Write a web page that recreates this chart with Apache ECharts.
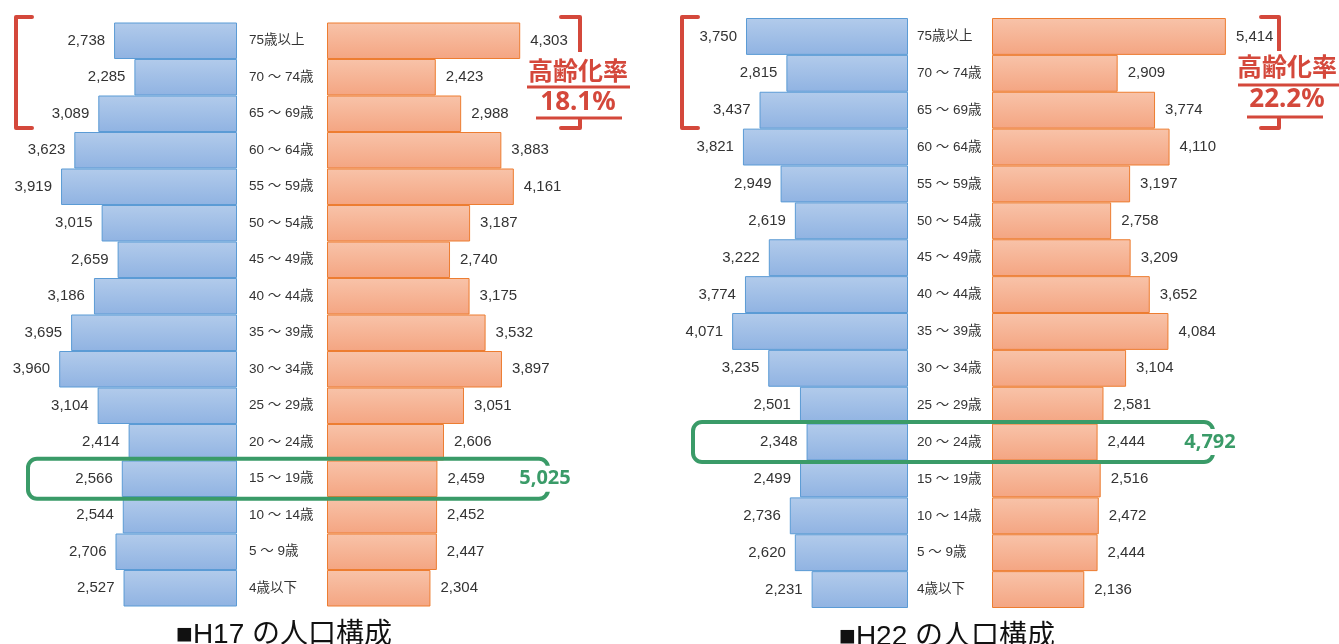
<!DOCTYPE html>
<html>
<head>
<meta charset="utf-8">
<script src="https://cdn.jsdelivr.net/npm/echarts@6/dist/echarts.min.js"></script>
<style>
html,body{margin:0;padding:0;background:#fff;}
#main{width:1339px;height:644px;}
</style>
</head>
<body>
<div id="main"></div>
<script>
// Age categories, bottom to top
var ages = ['4歳以下','5 ～ 9歳','10 ～ 14歳','15 ～ 19歳','20 ～ 24歳','25 ～ 29歳','30 ～ 34歳','35 ～ 39歳','40 ～ 44歳','45 ～ 49歳','50 ～ 54歳','55 ～ 59歳','60 ～ 64歳','65 ～ 69歳','70 ～ 74歳','75歳以上'];
var h17Male   = [2527, 2706, 2544, 2566, 2414, 3104, 3960, 3695, 3186, 2659, 3015, 3919, 3623, 3089, 2285, 2738];
var h17Female = [2304, 2447, 2452, 2459, 2606, 3051, 3897, 3532, 3175, 2740, 3187, 4161, 3883, 2988, 2423, 4303];
var h22Male   = [2231, 2620, 2736, 2499, 2348, 2501, 3235, 4071, 3774, 3222, 2619, 2949, 3821, 3437, 2815, 3750];
var h22Female = [2136, 2444, 2472, 2516, 2444, 2581, 3104, 4084, 3652, 3209, 2758, 3197, 4110, 3774, 2909, 5414];
var titles = ['■H17 の人口構成', '■H22 の人口構成'];
var agingRates = ['18.1%', '22.2%'];
var highlight = [{age: '15 ～ 19歳', total: '5,025'}, {age: '20 ～ 24歳', total: '4,792'}];

var chart = echarts.init(document.getElementById('main'), null, {renderer: 'canvas'});
var NUMFONT = "'Liberation Sans', Arial, sans-serif";
var JPFONT = "'Liberation Sans', 'Noto Sans CJK JP', sans-serif";
var RED = '#d4483b';
var GREEN = '#3a9b68';

function blueGrad(){ return new echarts.graphic.LinearGradient(0,0,0,1,[{offset:0,color:'#b2cbeb'},{offset:1,color:'#90b3e2'}]); }
function orangeGrad(){ return new echarts.graphic.LinearGradient(0,0,0,1,[{offset:0,color:'#f8c3a9'},{offset:1,color:'#f4a582'}]); }
function fmt(v){ return v.toLocaleString('en-US'); }

var grids = [
  {left: 12.5, top: 22.5, width: 224.5, height: 584},
  {left: 327, top: 22.5, width: 224.5, height: 584},
  {left: 648.8, top: 18, width: 259.2, height: 590},
  {left: 992, top: 18, width: 259.2, height: 590}
];
var maxes = [5000, 5000, 6000, 6000];
var margins = [12, 9];

var xAxes = [], yAxes = [], series = [];
var dataSets = [h17Male, h17Female, h22Male, h22Female];
for (var i = 0; i < 4; i++) {
  var male = (i % 2 === 0);
  xAxes.push({gridIndex: i, type: 'value', min: 0, max: maxes[i], inverse: male, show: false});
  yAxes.push({
    gridIndex: i, type: 'category', data: ages, position: 'right',
    show: male,
    axisLine: {show: false}, axisTick: {show: false}, splitLine: {show: false},
    axisLabel: {show: male, margin: margins[Math.floor(i/2)], align: 'left', fontSize: 13.5, color: '#333', fontFamily: JPFONT}
  });
  series.push({
    type: 'bar', xAxisIndex: i, yAxisIndex: i, data: dataSets[i],
    barCategoryGap: '0%', silent: true,
    itemStyle: {color: male ? blueGrad() : orangeGrad(), borderColor: male ? '#5b9bd5' : '#ed7d31', borderWidth: 1},
    label: {show: true, position: male ? 'left' : 'right', distance: male ? 9 : 10,
      formatter: function(p){ return fmt(p.value); }, fontSize: 15, color: '#333', fontFamily: NUMFONT}
  });
}

chart.setOption({
  animation: false,
  grid: grids, xAxis: xAxes, yAxis: yAxes, series: series
});

function bracketLeft(x, x2, y1, y2){
  return {type: 'polyline', z: 50, shape: {points: [[x2,y1],[x,y1],[x,y2],[x2,y2]]},
    style: {stroke: RED, lineWidth: 4, fill: null, lineJoin: 'round', lineCap: 'round'}};
}
function bracketRight(x, x1, y1, y2){
  return {type: 'polyline', z: 50, shape: {points: [[x1,y1],[x,y1],[x,y2],[x1,y2]]},
    style: {stroke: RED, lineWidth: 4, fill: null, lineJoin: 'round', lineCap: 'round'}};
}
function agingBox(cx, boxTop, t1y, l1y, t2y, l2y, rate, l1, l2){
  return [
    {type: 'rect', z: 60, shape: {x: cx - 30, y: boxTop, width: 60, height: l2y - boxTop - 1}, style: {fill: '#fff'}},
    {type: 'text', z: 61, x: cx, y: t1y, style: {text: '高齢化率', fill: RED, font: "bold 25px 'Noto Sans CJK JP'", textAlign: 'center', textVerticalAlign: 'middle'}},
    {type: 'line', z: 61, shape: {x1: l1[0], y1: l1y, x2: l1[1], y2: l1y}, style: {stroke: RED, lineWidth: 3}},
    {type: 'text', z: 61, x: cx, y: t2y, style: {text: rate, fill: RED, font: "bold 26px 'Noto Sans', sans-serif", textAlign: 'center', textVerticalAlign: 'middle'}},
    {type: 'line', z: 61, shape: {x1: l2[0], y1: l2y, x2: l2[1], y2: l2y}, style: {stroke: RED, lineWidth: 3}}
  ];
}

var yA = chart.convertToPixel({yAxisIndex: 0}, highlight[0].age);
var yB = chart.convertToPixel({yAxisIndex: 2}, highlight[1].age);

var graphics = [
  bracketLeft(16, 32, 17, 128),
  bracketRight(580, 561, 17, 128),
  bracketLeft(682, 698, 17, 128),
  bracketRight(1279, 1261, 17, 128)
];
graphics = graphics.concat(agingBox(578, 52, 70, 87, 102.5, 118, agingRates[0], [527, 630], [536, 622]));
graphics = graphics.concat(agingBox(1287, 51, 66, 85, 100, 117, agingRates[1], [1238, 1339], [1247, 1323]));
graphics.push(
  {type: 'rect', z: 70, shape: {x: 28, y: yA - 20, width: 520, height: 40, r: 9}, style: {fill: null, stroke: GREEN, lineWidth: 4}},
  {type: 'text', z: 71, x: 545, y: yA, style: {text: highlight[0].total, fill: GREEN, font: "bold 20px 'Noto Sans', sans-serif", textAlign: 'center', textVerticalAlign: 'middle', backgroundColor: '#fff', padding: [4, 1, 2, 1]}},
  {type: 'rect', z: 70, shape: {x: 693, y: yB - 20, width: 520, height: 40, r: 9}, style: {fill: null, stroke: GREEN, lineWidth: 4}},
  {type: 'text', z: 71, x: 1210, y: yB, style: {text: highlight[1].total, fill: GREEN, font: "bold 20px 'Noto Sans', sans-serif", textAlign: 'center', textVerticalAlign: 'middle', backgroundColor: '#fff', padding: [4, 1, 2, 1]}},
  {type: 'text', z: 80, x: 284, y: 635, style: {text: titles[0], fill: '#111', font: "28px 'Liberation Sans', 'Noto Sans CJK JP', sans-serif", textAlign: 'center', textVerticalAlign: 'middle'}},
  {type: 'text', z: 80, x: 947, y: 637, style: {text: titles[1], fill: '#111', font: "28px 'Liberation Sans', 'Noto Sans CJK JP', sans-serif", textAlign: 'center', textVerticalAlign: 'middle'}}
);
chart.setOption({graphic: graphics});
</script>
</body>
</html>
